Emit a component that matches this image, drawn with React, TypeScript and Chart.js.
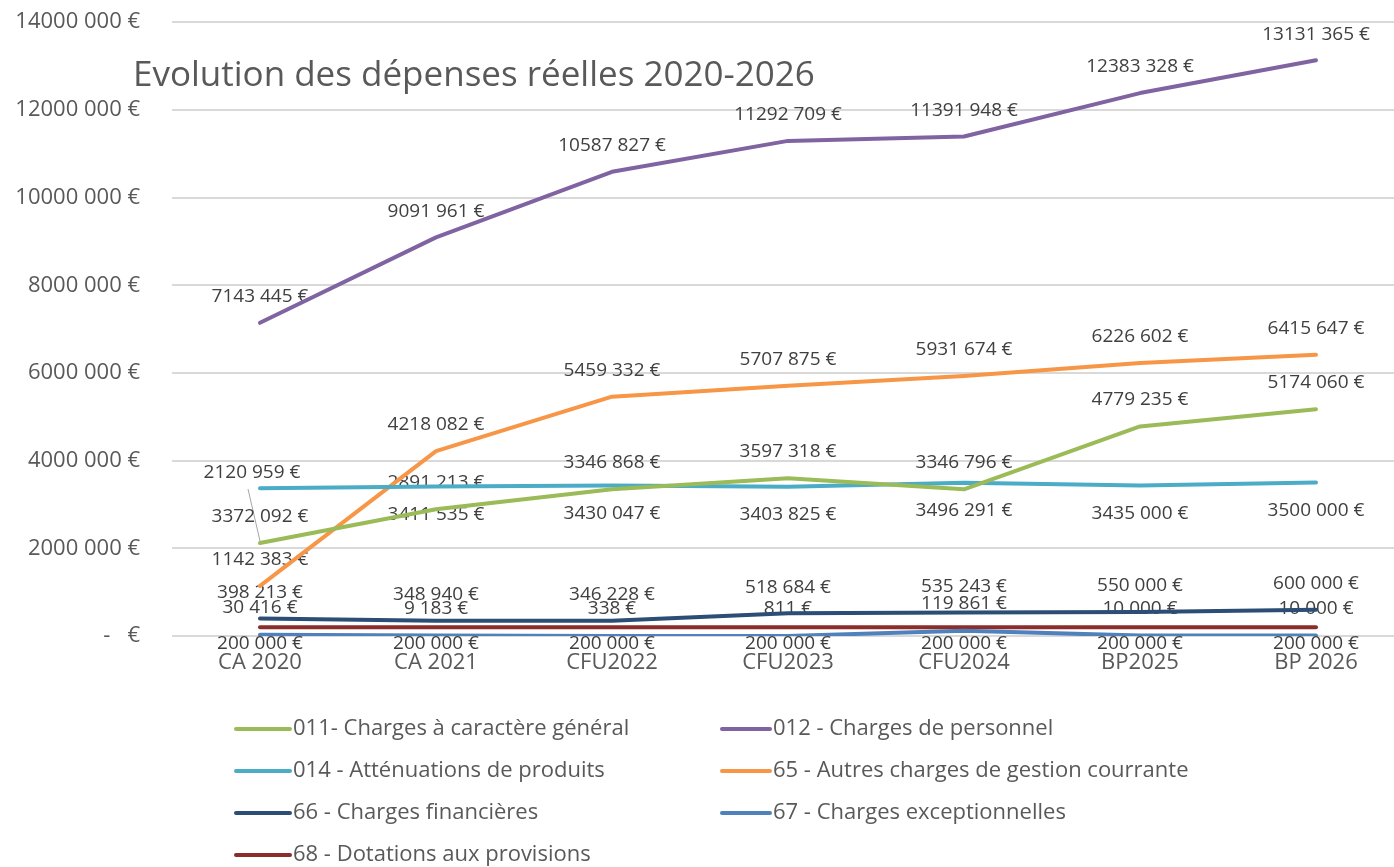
import React, { useEffect, useRef } from "react";
import { Chart, registerables } from "chart.js";

Chart.register(...registerables);

const categories = ["CA 2020", "CA 2021", "CFU2022", "CFU2023", "CFU2024", "BP2025", "BP 2026"];
const seriesNames = [
  "011- Charges à caractère général",
  "012 - Charges de personnel",
  "014 - Atténuations de produits",
  "65 - Autres charges de gestion courrante",
  "66 - Charges financières",
  "67 - Charges exceptionnelles",
  "68 - Dotations aux provisions",
];
const charges011 = [2120959, 2891213, 3346868, 3597318, 3346796, 4779235, 5174060];
const charges012 = [7143445, 9091961, 10587827, 11292709, 11391948, 12383328, 13131365];
const charges014 = [3372092, 3411535, 3430047, 3403825, 3496291, 3435000, 3500000];
const charges65 = [1142383, 4218082, 5459332, 5707875, 5931674, 6226602, 6415647];
const charges66 = [398213, 348940, 346228, 518684, 535243, 550000, 600000];
const charges67 = [30416, 9183, 338, 811, 119861, 10000, 10000];
const charges68 = [200000, 200000, 200000, 200000, 200000, 200000, 200000];
const yTicks = [0, 2000000, 4000000, 6000000, 8000000, 10000000, 12000000, 14000000];
const titleText = "Evolution des dépenses réelles 2020-2026";

const seriesValues = [charges011, charges012, charges014, charges65, charges66, charges67, charges68];
const colors = ["#9BBB59", "#8064A2", "#4BACC6", "#F79646", "#2C4D75", "#4F81BD", "#8B2E2B"];
const labelDy = [-27, -26, 28, -26, -26, -27, 16];

function fmt(v: number): string {
  if (v === 0) return "-   €";
  const s = Math.round(v).toString();
  if (s.length <= 3) return s + " €";
  return s.slice(0, -3) + " " + s.slice(-3) + " €";
}

const FONT = "'Open Sans', 'DejaVu Sans', sans-serif";

const labelPlugin = {
  id: "dataLabels",
  beforeDatasetsDraw(chart: any) {
    const ctx = chart.ctx;
    ctx.save();
    ctx.font = `19px ${FONT}`;
    ctx.fillStyle = "#404040";
    ctx.textAlign = "center";
    ctx.textBaseline = "middle";
    chart.data.datasets.forEach((ds: any, i: number) => {
      const meta = chart.getDatasetMeta(i);
      meta.data.forEach((pt: any, j: number) => {
        const v = ds.data[j];
        let dx = 0;
        let dy = labelDy[i];
        if (i === 0 && j === 0) {
          dx = -8;
          dy = -70;
          ctx.save();
          ctx.strokeStyle = "#A6A6A6";
          ctx.lineWidth = 1;
          ctx.beginPath();
          ctx.moveTo(pt.x - 12, pt.y - 54);
          ctx.lineTo(pt.x, pt.y - 2);
          ctx.stroke();
          ctx.restore();
        }
        ctx.fillText(fmt(v), pt.x + dx, pt.y + dy);
      });
    });
    ctx.restore();
  },
  afterDraw(chart: any) {
    const ctx = chart.ctx;
    ctx.save();
    ctx.font = `35px ${FONT}`;
    ctx.fillStyle = "#595959";
    ctx.textAlign = "left";
    ctx.textBaseline = "middle";
    ctx.fillText(titleText, 133, 76);
    ctx.font = `22px ${FONT}`;
    const cols = [
      { lx: 236, lw: 54, tx: 293 },
      { lx: 722, lw: 48, tx: 773 },
    ];
    seriesNames.forEach((name, i) => {
      const c = cols[i % 2];
      const y = 729 + Math.floor(i / 2) * 42;
      ctx.strokeStyle = colors[i];
      ctx.lineWidth = 4;
      ctx.lineCap = "round";
      ctx.beginPath();
      ctx.moveTo(c.lx, y);
      ctx.lineTo(c.lx + c.lw, y);
      ctx.stroke();
      ctx.fillStyle = "#595959";
      ctx.fillText(name, c.tx, y);
    });
    ctx.restore();
  },
};

export default function App() {
  const ref = useRef<HTMLCanvasElement | null>(null);
  useEffect(() => {
    if (!ref.current) return;
    const chart = new Chart(ref.current, {
      type: "line",
      data: {
        labels: categories,
        datasets: seriesValues.map((vals, i) => ({
          label: seriesNames[i],
          data: vals,
          borderColor: colors[i],
          backgroundColor: colors[i],
          borderWidth: 4,
          pointRadius: 0,
          tension: 0,
          borderJoinStyle: "round" as const,
          borderCapStyle: "round" as const,
          fill: false,
        })),
      },
      options: {
        responsive: false,
        animation: false,
        layout: { padding: { top: 0, right: 6, left: 0, bottom: 181 } },
        plugins: {
          legend: { display: false },
          title: { display: false },
          tooltip: { enabled: false },
        },
        scales: {
          x: {
            offset: true,
            grid: { display: false, drawTicks: false },
            border: { display: false },
            ticks: {
              font: { family: FONT, size: 22 },
              color: "#595959",
              padding: 14,
              maxRotation: 0,
            },
            afterFit(scale: any) {
              scale.height = 50;
            },
          },
          y: {
            min: 0,
            max: 14000000,
            afterBuildTicks(scale: any) {
              scale.ticks = yTicks.map((v) => ({ value: v }));
            },
            grid: {
              color: "#D9D9D9",
              lineWidth: 2,
              drawTicks: true,
              tickLength: 23,
              tickColor: "rgba(0,0,0,0)",
            },
            border: { display: false },
            ticks: {
              font: { family: FONT, size: 22 },
              color: "#595959",
              padding: 9,
              callback: (v: any) => fmt(Number(v)),
            },
            afterFit(scale: any) {
              scale.width = 172;
            },
          },
        },
      },
      plugins: [labelPlugin],
    });
    return () => chart.destroy();
  }, []);
  return (
    <div style={{ position: "fixed", left: 0, top: 0, width: 1394, height: 867, overflow: "hidden", background: "#fff" }}>
      <canvas ref={ref} width={1410} height={867} style={{ display: "block" }} />
    </div>
  );
}
